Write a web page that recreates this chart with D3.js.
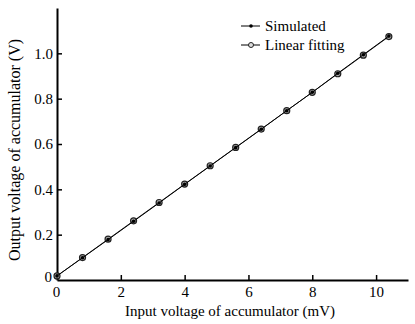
<!DOCTYPE html>
<html>
<head>
<meta charset="utf-8">
<script src="https://cdn.jsdelivr.net/npm/d3@7"></script>
<style>
  html, body { margin: 0; padding: 0; background: #fff; }
</style>
</head>
<body>
<svg id="chart" width="415" height="324"></svg>
<script>
// Input voltage (mV) and output voltage (V) of the accumulator
const inputVoltage = [0, 0.8, 1.6, 2.4, 3.2, 4.0, 4.8, 5.6, 6.4, 7.2, 8.0, 8.8, 9.6, 10.4];
const simulated    = [0.018, 0.098, 0.178, 0.259, 0.340, 0.422, 0.503, 0.584, 0.665, 0.747, 0.828, 0.912, 0.994, 1.076];
const fitted       = [0.018, 0.099, 0.180, 0.261, 0.342, 0.423, 0.504, 0.585, 0.666, 0.747, 0.828, 0.910, 0.992, 1.074];
const xTicks = [0, 2, 4, 6, 8, 10];
const yTicks = [0.2, 0.4, 0.6, 0.8, 1.0];
const seriesNames = ["Simulated", "Linear fitting"];

const FONT = '"Liberation Serif"';
const svg = d3.select("#chart");
const W = 415, H = 324;
const margin = { left: 57, top: 8, right: 5, bottom: 44 };

const x = d3.scaleLinear().domain([0, 11]).range([margin.left, 408]);
const y = d3.scaleLinear().domain([0, 1.2]).range([H - margin.bottom, margin.top]);

// axes with inward ticks
const xAxis = svg.append("g").attr("transform", `translate(0,${y(0)})`)
  .call(d3.axisBottom(x).tickValues(xTicks).tickSize(-5).tickSizeOuter(0).tickPadding(6)
    .tickFormat(d3.format("d")));
const yAxis = svg.append("g").attr("transform", `translate(${x(0)},0)`)
  .call(d3.axisLeft(y).tickValues(yTicks).tickSize(-5).tickSizeOuter(0).tickPadding(4)
    .tickFormat(d3.format(".1f")));

[xAxis, yAxis].forEach(g => {
  g.select(".domain").attr("stroke", "#000").attr("stroke-width", 2);
  g.selectAll(".tick line").attr("stroke", "#000").attr("stroke-width", 1.5);
  g.selectAll(".tick text").style("font-family", FONT).style("font-size", "15px")
    .attr("fill", "#000");
});
xAxis.selectAll(".tick text").attr("x", d => d === 0 ? -1 : 0);

const label = (sel, size) => sel.style("font-family", FONT).style("font-size", size + "px").attr("fill", "#000");

// shared origin label for the y axis
label(svg.append("text").attr("x", x(0) - 5).attr("y", y(0) + 2)
  .attr("text-anchor", "end").text("0"), 15);

// axis titles
label(svg.append("text").attr("x", 230).attr("y", 316)
  .attr("text-anchor", "middle")
  .text("Input voltage of accumulator (mV)"), 15);
label(svg.append("text")
  .attr("transform", `translate(20,150) rotate(-90)`)
  .attr("text-anchor", "middle")
  .text("Output voltage of accumulator (V)"), 16);

const line = d3.line().x(d => x(d[0])).y(d => y(d[1]));
const fitPts = inputVoltage.map((v, i) => [v, fitted[i]]);
const simPts = inputVoltage.map((v, i) => [v, simulated[i]]);

// linear fitting: thin line with open circles
svg.append("path").datum(fitPts).attr("d", line)
  .attr("fill", "none").attr("stroke", "#333").attr("stroke-width", 1);
svg.append("g").selectAll("circle").data(fitPts).join("circle")
  .attr("cx", d => x(d[0])).attr("cy", d => y(d[1])).attr("r", 3)
  .attr("fill", "#aaa").attr("stroke", "#222").attr("stroke-width", 1.2);

// simulated: line with small filled dots
svg.append("path").datum(simPts).attr("d", line)
  .attr("fill", "none").attr("stroke", "#000").attr("stroke-width", 1);
svg.append("g").selectAll("circle").data(simPts).join("circle")
  .attr("cx", d => x(d[0])).attr("cy", d => y(d[1])).attr("r", 1.8)
  .attr("fill", "#000");

// legend
const legend = svg.append("g");
seriesNames.forEach((name, i) => {
  const ly = 26 + i * 19;
  legend.append("line").attr("x1", 241).attr("x2", 260).attr("y1", ly).attr("y2", ly)
    .attr("stroke", "#000").attr("stroke-width", 1);
  if (i === 0) {
    legend.append("circle").attr("cx", 251).attr("cy", ly).attr("r", 1.8).attr("fill", "#000");
  } else {
    legend.append("circle").attr("cx", 251).attr("cy", ly).attr("r", 2.5)
      .attr("fill", "#ddd").attr("stroke", "#222").attr("stroke-width", 1);
  }
  label(legend.append("text").attr("x", 265).attr("y", ly + 5).text(name), 15);
});
</script>
</body>
</html>
